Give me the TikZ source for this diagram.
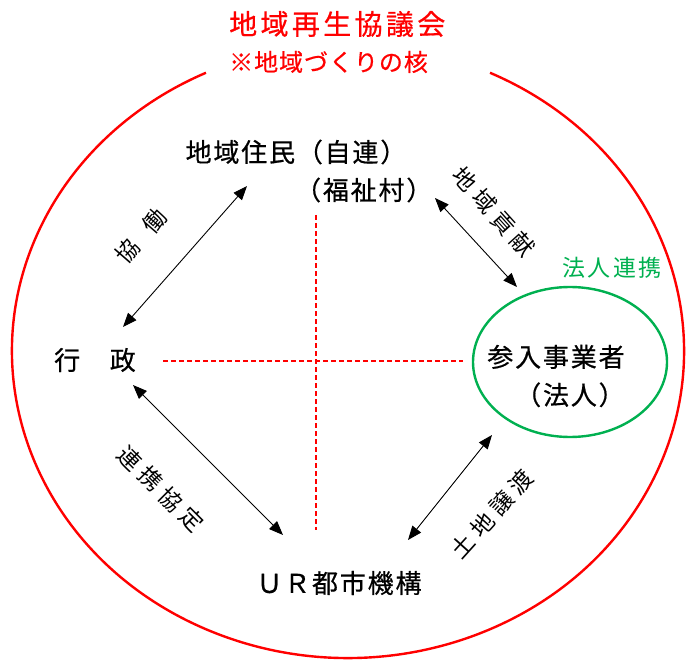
\documentclass[tikz,border=0pt]{standalone}
\usepackage{fontspec}
\setmainfont{Noto Sans CJK JP}
\usetikzlibrary{arrows.meta,shapes.geometric}
\definecolor{ured}{HTML}{FF0000}
\definecolor{ugreen}{HTML}{00B050}
\newcommand\myfs[2]{\fontsize{#1}{#2}\selectfont}
\tikzset{
  main/.style={font=\myfs{26}{38}\addfontfeatures{LetterSpace=7,FakeBold=0.6}, inner sep=0pt, text=black},
  lbl/.style={font=\myfs{23}{25}\addfontfeatures{LetterSpace=26}, inner sep=0pt, text=black},
  link/.style={draw=black, line width=0.9pt, {Triangle[length=14pt,width=11pt]}-{Triangle[length=14pt,width=11pt]}},
  guide/.style={draw=ured, line width=1.2pt, dash pattern=on 5pt off 3pt},
}
\begin{document}
\begin{tikzpicture}[x=1pt,y=-1pt]
\useasboundingbox (0,0) rectangle (690,660);
% council ellipse
\draw[ured, line width=2.4pt] (348,351) ++(-65:336 and 307) arc[start angle=-65, end angle=245, x radius=336, y radius=307];
% title
\node[anchor=west, inner sep=0pt, text=ured, font=\myfs{28}{30}\addfontfeatures{LetterSpace=12,FakeBold=0.6}] (title) at (229,24) {地域再生協議会};
\node[anchor=west, inner sep=0pt, text=ured, font=\myfs{24}{27}\addfontfeatures{LetterSpace=4,FakeBold=0.6}] (sub) at (229,62) {※地域づくりの核};
% guides
\coordinate (h1) at (163,361);
\coordinate (h2) at (463,361);
\coordinate (v1) at (316,215);
\coordinate (v2) at (316,530);
\draw[guide] (h1) -- (h2);
\draw[guide] (v1) -- (v2);
% nodes
\node[main, align=left] (res) at (309,171) {地域住民（自連）\\\phantom{地域住民}（福祉村）};
\node[main] (gov) at (95,360) {行　政};
\node[main, align=right] (biz) at (556,376) {参入事業者\\（法人）};
\node[main] (ur) at (339,583) {ＵＲ都市機構};
\node[ellipse, draw=ugreen, line width=2.4pt, minimum width=194pt, minimum height=150pt, inner sep=0pt] (corp) at (570,362) {};
\node[inner sep=0pt, text=ugreen, font=\myfs{23}{26}\addfontfeatures{LetterSpace=11}] (corplbl) at (612,268) {法人連携};
% arrows
\coordinate (a1s) at (247,186); \coordinate (a1e) at (123,327);
\coordinate (a2s) at (435,198); \coordinate (a2e) at (517,287);
\coordinate (a3s) at (133,385); \coordinate (a3e) at (283,535);
\coordinate (a4s) at (492,435); \coordinate (a4e) at (408,540);
\draw[link] (a1s) -- (a1e);
\draw[link] (a2s) -- (a2e);
\draw[link] (a3s) -- (a3e);
\draw[link] (a4s) -- (a4e);
% labels
\node[lbl, rotate=49] (l1) at (141,236) {協\hspace{17pt}働};
\node[lbl, rotate=-48] (l2) at (494,212) {地域貢献};
\node[lbl, rotate=-45] (l3) at (161,489) {連携協定};
\node[lbl, rotate=48] (l4) at (492,514) {土地譲渡};
\end{tikzpicture}
\end{document}
